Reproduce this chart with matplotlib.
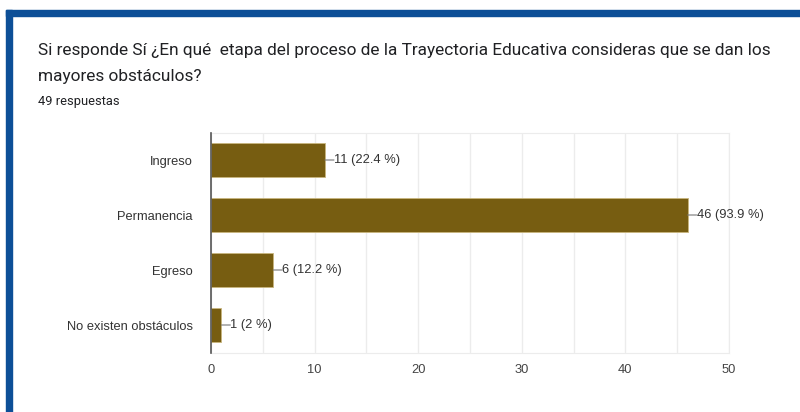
import matplotlib.pyplot as plt
from matplotlib.patches import Rectangle

categories = ["Ingreso", "Permanencia", "Egreso", "No existen obstáculos"]
counts = [11, 46, 6, 1]
percents = ["22.4", "93.9", "12.2", "2"]
xticks = [0, 10, 20, 30, 40, 50]

BAR_COLOR = "#775d11"
GRID_COLOR = "#ececec"
CHART_FONT = ["Liberation Sans", "DejaVu Sans"]

plt.rcParams["font.family"] = ["Roboto", "DejaVu Sans"]

fig = plt.figure(figsize=(8, 4.12), dpi=100)
fig.patch.set_facecolor("white")

# blue card border (top and left)
fig.patches.append(Rectangle((6 / 800, 1 - 16 / 412), 794 / 800, 6 / 412,
                             transform=fig.transFigure, color="#0d4f97", zorder=5))
fig.patches.append(Rectangle((6 / 800, 0), 6 / 800, 1 - 10 / 412,
                             transform=fig.transFigure, color="#0d4f97", zorder=5))

fig.text(38 / 800, 1 - 55 / 412,
         "Si responde Sí ¿En qué  etapa del proceso de la Trayectoria Educativa consideras que se dan los",
         fontsize=12.45, color="#202124", va="baseline")
fig.text(38 / 800, 1 - 81 / 412, "mayores obstáculos?",
         fontsize=12.45, color="#202124", va="baseline")
fig.text(38 / 800, 1 - 105 / 412, "49 respuestas", fontsize=9.3, color="#202124", va="baseline")

ax = fig.add_axes([211 / 800, 1 - 352.5 / 412, 518 / 800, 220 / 412])
ypos = list(range(len(categories)))
ax.barh(ypos, counts, height=0.62, color=BAR_COLOR, edgecolor="#c9b67e", linewidth=0.6, zorder=3)

for y, c, p in zip(ypos, counts, percents):
    ax.annotate(f"{c} ({p} %)", xy=(c, y), xytext=(9, 0), textcoords="offset pixels",
                ha="left", va="center", fontsize=9.3, color="#333333", family=CHART_FONT,
                arrowprops=dict(arrowstyle="-", color="#777777", lw=0.8, relpos=(0, 0.5),
                                patchA=None, shrinkA=0, shrinkB=0))

ax.set_xlim(0, 50)
ax.set_ylim(len(categories) - 0.5, -0.5)
ax.set_yticks(ypos)
ax.set_yticklabels(categories, fontsize=9.3, color="#333333", family=CHART_FONT)
ax.set_xticks(xticks)
ax.set_xticklabels([str(t) for t in xticks], fontsize=9.3, color="#444444", family=CHART_FONT)
ax.set_xticks(range(5, 50, 10), minor=True)
ax.tick_params(axis="both", which="both", length=0)
ax.tick_params(axis="x", pad=8)
ax.tick_params(axis="y", pad=13)
ax.grid(axis="x", which="both", color=GRID_COLOR, lw=1, zorder=0)

for side in ["top", "right", "bottom"]:
    ax.spines[side].set_color(GRID_COLOR)
ax.spines["left"].set_color("#555555")
ax.spines["left"].set_linewidth(1.2)
ax.spines["left"].set_zorder(4)

fig.savefig("out.png", dpi=100)
